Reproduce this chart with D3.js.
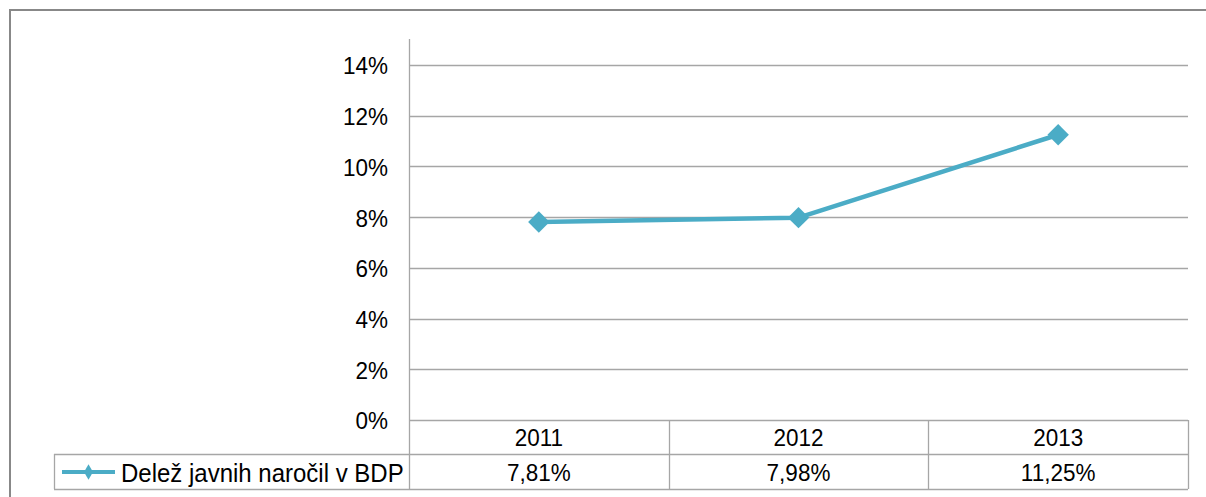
<!DOCTYPE html>
<html><head><meta charset="utf-8">
<script src="https://cdn.jsdelivr.net/npm/d3@7"></script>
<style>
body{margin:0;background:#fff;}
svg{display:block;}
text{font-family:"Liberation Sans",Arial,sans-serif;fill:#000;}
</style></head>
<body>
<svg id="c" width="1206" height="497"></svg>
<script>
const categories = ["2011","2012","2013"];
const seriesName = "Delež javnih naročil v BDP";
const values = [7.81, 7.98, 11.25];
const valueLabels = ["7,81%","7,98%","11,25%"];
const yTicks = [0,2,4,6,8,10,12,14];

(function(){
const svg = d3.select("#c");
const color = "#4BACC6", grid = "#A6A6A6";
const pLeft = 409, pRight = 1188, pTop = 39, pBottom = 420;
const row1 = 454, row2 = 489, legLeft = 54;
const fs = 22.5, sy = 1.1;

svg.append("rect").attr("x",10).attr("y",10).attr("width",1230).attr("height",520)
  .attr("fill","none").attr("stroke","#888").attr("stroke-width",2);

const x = d3.scaleBand().domain(categories).range([pLeft,pRight]).padding(0);
const y = d3.scaleLinear().domain([0,14]).range([pBottom, 65]);

function txt(g, tx, ty, s, anchor, size){
  return g.append("text").attr("transform",`translate(${tx},${ty}) scale(1,${sy})`)
   .attr("text-anchor",anchor).attr("font-size",size||fs).attr("dominant-baseline","central").text(s);
}

svg.append("g").selectAll("line").data(yTicks).join("line")
  .attr("x1",pLeft).attr("x2",pRight).attr("y1",d=>Math.round(y(d))+0.5).attr("y2",d=>Math.round(y(d))+0.5)
  .attr("stroke",grid).attr("stroke-width",1.3);
const yl = svg.append("g");
yTicks.forEach(t=>txt(yl, 388, y(t)+1, t+"%", "end"));

svg.append("line").attr("x1",pLeft+0.5).attr("x2",pLeft+0.5).attr("y1",pTop).attr("y2",row2)
  .attr("stroke",grid).attr("stroke-width",1.3);

const tl = svg.append("g").attr("stroke",grid).attr("stroke-width",1.3);
tl.append("line").attr("x1",legLeft).attr("x2",pRight).attr("y1",row1+0.5).attr("y2",row1+0.5);
tl.append("line").attr("x1",legLeft).attr("x2",pRight).attr("y1",row2+0.5).attr("y2",row2+0.5);
tl.append("line").attr("x1",legLeft+0.5).attr("x2",legLeft+0.5).attr("y1",row1).attr("y2",row2);
categories.forEach(c=>{
  const xe = x(c)+x.bandwidth();
  tl.append("line").attr("x1",Math.round(xe)+0.5).attr("x2",Math.round(xe)+0.5).attr("y1",pBottom).attr("y2",row2);
});

const tt = svg.append("g");
categories.forEach((c,i)=>{
  txt(tt, x(c)+x.bandwidth()/2, (pBottom+row1)/2+1, c, "middle");
  txt(tt, x(c)+x.bandwidth()/2, (row1+row2)/2+1, valueLabels[i], "middle");
});
txt(tt, 121, (row1+row2)/2+1, seriesName, "start", 24);

svg.append("line").attr("x1",62).attr("x2",115).attr("y1",472).attr("y2",472)
  .attr("stroke",color).attr("stroke-width",4);
svg.append("path").attr("d",d3.symbol(d3.symbolDiamond,70)()).attr("transform","translate(88.5,472)")
  .attr("fill",color);

const line = d3.line().x((d,i)=>x(categories[i])+x.bandwidth()/2).y(d=>y(d));
svg.append("path").datum(values).attr("d",line).attr("fill","none")
  .attr("stroke",color).attr("stroke-width",4.5).attr("stroke-linejoin","round");
svg.append("g").selectAll("path").data(values).join("path")
  .attr("d",d3.symbol(d3.symbolSquare,230)())
  .attr("transform",(d,i)=>`translate(${x(categories[i])+x.bandwidth()/2},${y(d)}) rotate(45)`)
  .attr("fill",color);
})();
</script>
</body></html>
